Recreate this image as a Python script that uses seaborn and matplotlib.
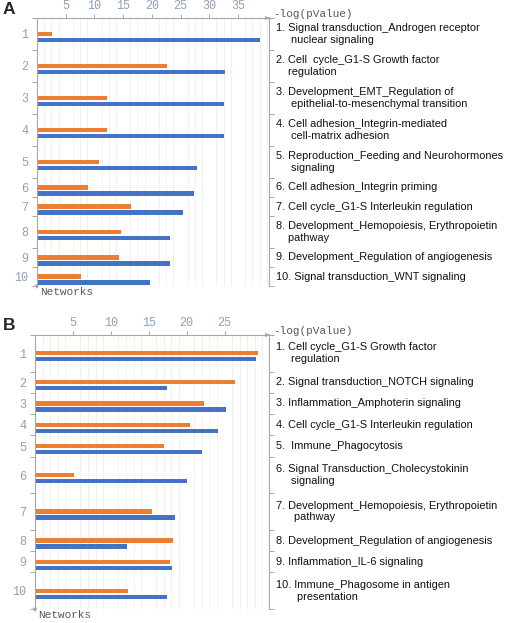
import numpy as np
import pandas as pd
import seaborn as sns
import matplotlib.pyplot as plt
from matplotlib import transforms

# figure size in pixels
W, H = 509, 623

# panel A data
labels_a = [
    "1. Signal transduction_Androgen receptor\n     nuclear signaling",
    "2. Cell  cycle_G1-S Growth factor\n    regulation",
    "3. Development_EMT_Regulation of\n     epithelial-to-mesenchymal transition",
    "4. Cell adhesion_Integrin-mediated\n     cell-matrix adhesion",
    "5. Reproduction_Feeding and Neurohormones\n     signaling",
    "6. Cell adhesion_Integrin priming",
    "7. Cell cycle_G1-S Interleukin regulation",
    "8. Development_Hemopoiesis, Erythropoietin\n    pathway",
    "9. Development_Regulation of angiogenesis",
    "10. Signal transduction_WNT signaling",
]
orange_a = [2.6, 22.7, 12.2, 12.25, 10.8, 8.8, 16.3, 14.6, 14.3, 7.7]
blue_a = [38.9, 32.8, 32.6, 32.6, 27.8, 27.4, 25.4, 23.1, 23.1, 19.7]
ticks_a = [5, 10, 15, 20, 25, 30, 35]

# panel B data
labels_b = [
    "1. Cell cycle_G1-S Growth factor\n     regulation",
    "2. Signal transduction_NOTCH signaling",
    "3. Inflammation_Amphoterin signaling",
    "4. Cell cycle_G1-S Interleukin regulation",
    "5.  Immune_Phagocytosis",
    "6. Signal Transduction_Cholecystokinin\n     signaling",
    "7. Development_Hemopoiesis, Erythropoietin\n      pathway",
    "8. Development_Regulation of angiogenesis",
    "9. Inflammation_IL-6 signaling",
    "10. Immune_Phagosome in antigen\n       presentation",
]
orange_b = [29.4, 26.4, 22.3, 20.5, 17.0, 5.1, 15.4, 18.2, 17.8, 12.3]
blue_b = [29.2, 17.35, 25.2, 24.1, 22.0, 20.1, 18.45, 12.1, 18.1, 17.4]
ticks_b = [5, 10, 15, 20, 25]

series = ["Series 1", "Series 2"]

sns.set_style("white")
plt.rcParams['font.family'] = ['Liberation Sans', 'DejaVu Sans']

ORANGE = "#ED7D31"
BLUE = "#4472C4"
SPINE = "#A6A6A6"
NUM = "#8FA0B6"

fig = plt.figure(figsize=(W / 100, H / 100), dpi=100)


def panel(box, letter, labels, orange, blue, ticks, xmax, minor_step, h1, h2):
    left, top, right, bottom = box
    ax = fig.add_axes([left / W, 1 - bottom / H, (right - left) / W, (bottom - top) / H])

    # row heights follow the number of text lines of each label
    nlines = [lab.count("\n") + 1 for lab in labels]
    heights = np.array([h2 if n == 2 else h1 for n in nlines])
    edges = np.concatenate([[0], np.cumsum(heights)])
    centers = (edges[:-1] + edges[1:]) / 2
    pos = centers + 3

    df = pd.DataFrame({
        "network": np.concatenate([pos, pos]),
        "value": list(orange) + list(blue),
        "series": [series[0]] * len(orange) + [series[1]] * len(blue),
    })
    width = 12 / np.diff(pos).min()
    sns.barplot(data=df, x="value", y="network", hue="series", orient="h",
                native_scale=True, dodge=True, width=width, gap=0.3,
                palette=[ORANGE, BLUE], saturation=1, errorbar=None, legend=False,
                linewidth=0, ax=ax)

    ax.set_xlim(0, xmax)
    ax.set_ylim(edges[-1], 0)
    ax.set_xlabel("")
    ax.set_ylabel("")

    # y: boundaries as ticks, numbers at row centres
    ax.set_yticks(edges)
    ax.set_yticks(centers, minor=True)
    ax.set_yticklabels([str(i + 1) for i in range(len(labels))], minor=True)
    ax.tick_params(axis="y", which="major", left=True, right=True, direction="out",
                   length=3.5, width=0.7, color=SPINE, labelleft=False)
    ax.tick_params(axis="y", which="minor", length=0, pad=6.5, labelcolor=NUM,
                   labelsize=8.5, labelfontfamily="Liberation Mono")

    # x on top
    ax.xaxis.tick_top()
    ax.set_xticks(ticks)
    ax.set_xticklabels([str(t) for t in ticks])
    ax.set_xticks(np.arange(0, xmax, minor_step), minor=True)
    ax.tick_params(axis="x", which="major", top=True, bottom=False, length=3,
                   width=0.7, color=SPINE, labelcolor=NUM, labelsize=8.5, pad=1.5,
                   labelfontfamily="Liberation Mono")
    ax.tick_params(axis="x", which="minor", top=False, bottom=False, length=0)
    ax.grid(axis="x", which="minor", color="#F0F0F0", lw=0.7)
    ax.grid(axis="y", visible=False)
    ax.set_axisbelow(True)

    ax.spines["bottom"].set_visible(False)
    for s in ["left", "top", "right"]:
        ax.spines[s].set_color(SPINE)
        ax.spines[s].set_linewidth(0.8)

    # arrows at the axis ends
    ax.annotate("", xy=(1.014, 1), xytext=(0.99, 1), xycoords="axes fraction",
                arrowprops=dict(arrowstyle="-|>", color=SPINE, lw=0.8, mutation_scale=5))
    ax.annotate("", xy=(0, -0.022), xytext=(0, 0.01), xycoords="axes fraction",
                arrowprops=dict(arrowstyle="-|>", color=SPINE, lw=0.8, mutation_scale=5))

    fig.text(273 / W, 1 - (top - 4) / H, "-log(pValue)", family="Liberation Mono",
             size=8, color="#595959", va="center")
    fig.text((left + 3) / W, 1 - (bottom + 6) / H, "Networks", family="Liberation Mono",
             size=8, color="#595959", va="center")
    fig.text(3 / W, 1 - (top - 9) / H, letter, weight="bold", size=12.5, va="center")

    trans = transforms.blended_transform_factory(fig.transFigure, ax.transData)
    for lab, c in zip(labels, centers):
        ax.text(276 / W, c, lab, transform=trans, va="center", ha="left",
                size=7.9, linespacing=1.22, color="#111111")
    return ax


panel((37, 18, 269, 286), "A", labels_a, orange_a, blue_a, ticks_a, 40.4, 1.25, 19, 32)
panel((35, 335, 269, 609), "B", labels_b, orange_b, blue_b, ticks_b, 30.87, 1.0, 21.3, 36.5)

fig.savefig("out.png", dpi=100)
